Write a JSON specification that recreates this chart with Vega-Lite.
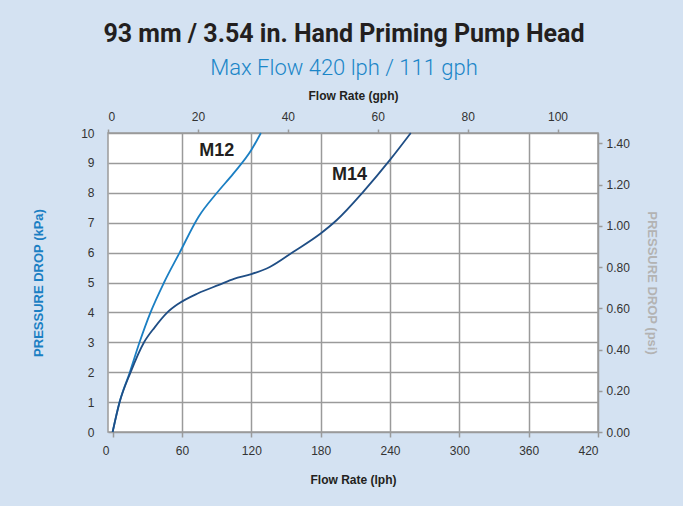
{
  "$schema": "https://vega.github.io/schema/vega-lite/v6.json",
  "width": 490,
  "height": 299,
  "autosize": "none",
  "padding": {"left": 108, "top": 133, "right": 85, "bottom": 74},
  "background": "#d4e2f2",
  "config": {
    "view": {"fill": "white", "stroke": "#9a9a9a", "strokeWidth": 1.5},
    "axis": {"labelFont": "Liberation Sans", "titleFont": "Liberation Sans", "labelColor": "#333333", "labelFontSize": 12}
  },
  "title": {
    "text": "93 mm / 3.54 in. Hand Priming Pump Head",
    "subtitle": "Max Flow 420 lph / 111 gph",
    "font": "Roboto",
    "fontSize": 25,
    "fontWeight": "bold",
    "color": "#231f20",
    "subtitleFont": "Roboto",
    "subtitleFontSize": 22,
    "subtitleFontWeight": 300,
    "subtitleColor": "#1b86c8",
    "subtitlePadding": 11,
    "anchor": "middle",
    "frame": "group",
    "dx": -9,
    "offset": 10
  },
  "datasets": {
    "curves": [
      {"series": "M12", "lph": 0, "kpa": 0},
      {"series": "M12", "lph": 6, "kpa": 1},
      {"series": "M12", "lph": 14.9, "kpa": 2},
      {"series": "M12", "lph": 23.3, "kpa": 3},
      {"series": "M12", "lph": 32.8, "kpa": 4},
      {"series": "M12", "lph": 44.5, "kpa": 5},
      {"series": "M12", "lph": 58, "kpa": 6},
      {"series": "M12", "lph": 74.4, "kpa": 7.2},
      {"series": "M12", "lph": 90.3, "kpa": 8},
      {"series": "M12", "lph": 104.6, "kpa": 8.65},
      {"series": "M12", "lph": 120, "kpa": 9.43},
      {"series": "M12", "lph": 128.3, "kpa": 10},
      {"series": "M14", "lph": 0, "kpa": 0},
      {"series": "M14", "lph": 6.1, "kpa": 1},
      {"series": "M14", "lph": 15.6, "kpa": 2},
      {"series": "M14", "lph": 27.2, "kpa": 3},
      {"series": "M14", "lph": 36.4, "kpa": 3.5},
      {"series": "M14", "lph": 47.4, "kpa": 4},
      {"series": "M14", "lph": 56.6, "kpa": 4.28},
      {"series": "M14", "lph": 74, "kpa": 4.64},
      {"series": "M14", "lph": 92, "kpa": 4.92},
      {"series": "M14", "lph": 105, "kpa": 5.12},
      {"series": "M14", "lph": 120, "kpa": 5.28},
      {"series": "M14", "lph": 136, "kpa": 5.52},
      {"series": "M14", "lph": 156.5, "kpa": 6.03},
      {"series": "M14", "lph": 180, "kpa": 6.64},
      {"series": "M14", "lph": 194, "kpa": 7.09},
      {"series": "M14", "lph": 217, "kpa": 8.04},
      {"series": "M14", "lph": 240, "kpa": 9.1},
      {"series": "M14", "lph": 258, "kpa": 10}
    ],
    "labels": [
      {"label": "M12", "lph": 90, "kpa": 9.4},
      {"label": "M14", "lph": 205, "kpa": 8.6}
    ],
    "gphRange": [{"gph": 0}, {"gph": 109}],
    "psiRange": [{"psi": 0}, {"psi": 1.4504}]
  },
  "layer": [
    {
      "data": {"name": "curves"},
      "mark": {"type": "line", "interpolate": "monotone", "strokeWidth": 1.8},
      "encoding": {
        "x": {
          "field": "lph", "type": "quantitative",
          "scale": {"domain": [-4, 420], "nice": false, "zero": false},
          "axis": {
            "orient": "bottom",
            "values": [0, 60, 120, 180, 240, 300, 360, 420],
            "grid": true,
            "gridColor": "#9a9a9a",
            "gridWidth": 1.5,
            "gridOpacity": {"condition": {"test": "datum.value == 0", "value": 0}, "value": 1},
            "labelOffset": {"condition": {"test": "datum.value == 0", "value": -7}, "value": 0},
            "domain": false,
            "tickColor": "#9a9a9a",
            "tickSize": 5,
            "tickWidth": 1.5,
            "labelPadding": 8,
            "title": "Flow Rate (lph)",
            "titleFontSize": 12,
            "titleFontWeight": "bold",
            "titleColor": "#231f20",
            "titlePadding": 18
          }
        },
        "y": {
          "field": "kpa", "type": "quantitative",
          "scale": {"domain": [0, 10], "nice": false},
          "axis": {
            "orient": "left",
            "values": [0, 1, 2, 3, 4, 5, 6, 7, 8, 9, 10],
            "grid": true,
            "gridColor": "#9a9a9a",
            "gridWidth": 1.5,
            "domain": false,
            "ticks": false,
            "labelPadding": 14,
            "title": "PRESSURE DROP (kPa)",
            "titleFontSize": 13,
            "titleFontWeight": "bold",
            "titleColor": "#1b7fc3",
            "titlePadding": 35
          }
        },
        "color": {
          "field": "series", "type": "nominal",
          "scale": {"domain": ["M12", "M14"], "range": ["#1b7fc3", "#1f4e85"]},
          "legend": null
        }
      }
    },
    {
      "data": {"name": "labels"},
      "mark": {"type": "text", "font": "Liberation Sans", "fontSize": 18, "fontWeight": "bold", "color": "#231f20"},
      "encoding": {
        "x": {"field": "lph", "type": "quantitative", "scale": {"domain": [-4, 420], "nice": false, "zero": false}, "axis": null},
        "y": {"field": "kpa", "type": "quantitative", "scale": {"domain": [0, 10], "nice": false}, "axis": null},
        "text": {"field": "label"}
      }
    },
    {
      "data": {"name": "gphRange"},
      "mark": {"type": "point", "opacity": 0},
      "encoding": {
        "x": {
          "field": "gph", "type": "quantitative",
          "scale": {"domain": [0, 109], "nice": false},
          "axis": {
            "orient": "top",
            "values": [0, 20, 40, 60, 80, 100],
            "grid": false,
            "domain": false,
            "tickColor": "#9a9a9a",
            "tickSize": 4,
            "tickWidth": 1.5,
            "labelPadding": 6,
            "title": "Flow Rate (gph)",
            "titleFontSize": 12,
            "titleFontWeight": "bold",
            "titleColor": "#231f20",
            "titlePadding": 8
          }
        }
      }
    },
    {
      "data": {"name": "psiRange"},
      "mark": {"type": "point", "opacity": 0},
      "encoding": {
        "y": {
          "field": "psi", "type": "quantitative",
          "scale": {"domain": [0, 1.4504], "nice": false},
          "axis": {
            "orient": "right",
            "values": [0, 0.2, 0.4, 0.6, 0.8, 1.0, 1.2, 1.4],
            "format": ".2f",
            "grid": false,
            "domain": false,
            "tickColor": "#9a9a9a",
            "tickSize": 4,
            "tickWidth": 1.5,
            "labelPadding": 4,
            "title": "PRESSURE DROP (psi)",
            "titleFontSize": 13,
            "titleFontWeight": "bold",
            "titleColor": "#b3b3b3",
            "titlePadding": 15
          }
        }
      }
    }
  ],
  "resolve": {"scale": {"x": "independent", "y": "independent"}, "axis": {"x": "independent", "y": "independent"}}
}
